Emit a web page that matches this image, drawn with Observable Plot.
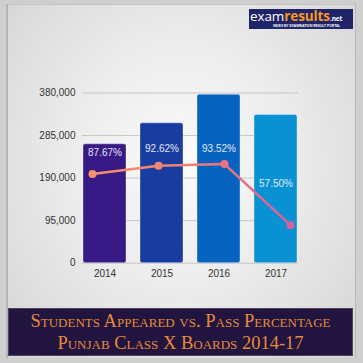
<!DOCTYPE html>
<html>
<head>
<meta charset="utf-8">
<script src="https://cdn.jsdelivr.net/npm/d3@7"></script>
<script src="https://cdn.jsdelivr.net/npm/@observablehq/plot@0.6"></script>
<style>
  html, body { margin: 0; padding: 0; }
  body { width: 363px; height: 363px; position: relative; overflow: hidden; background: #cfcfcf; }
  #panel { position: absolute; left: 6px; top: 4px; width: 347px; height: 353px;
    background: radial-gradient(ellipse at 50% 45%, #fbfbfb 0%, #ececec 45%, #d4d4d4 100%);
    border-left: 2px solid #b4b4b4; border-top: 1px solid #c4c4c4; border-right: 1px solid #b8b8b8; }
  .layer { position: absolute; left: 0; top: 0; }
  #logo { position: absolute; left: 249px; top: 9px; width: 104px; height: 20px; background: #1f2466; }
  #logo .brand { position: absolute; left: 1px; top: 0px; height: 14px; font-family: "Open Sans", sans-serif; font-size: 13.5px; line-height: 14px; color: #fff; white-space: nowrap; letter-spacing: -0.1px; }
  #logo .brand b { color: #f39a1e; font-weight: 700; }
  #logo .brand small { font-size: 6.5px; font-weight: 700; color: #fff; }
  #logo .tag { position: absolute; left: 24px; top: 15px; height: 4px; font-family: "Liberation Sans", sans-serif; font-size: 3.3px; line-height: 4px; color: #fff; white-space: nowrap; font-weight: 700; }
  #banner { position: absolute; left: 8px; top: 308px; width: 345px; height: 48px; background: #21143f;
    border: 1px solid #4a4560; box-sizing: border-box; color: #e58b3c; font-family: "Liberation Serif", "DejaVu Serif", serif;
    font-variant: small-caps; text-align: center; font-size: 18.5px; line-height: 22px; padding-top: 1px; }
</style>
</head>
<body>
<div id="panel"></div>
<div id="chart" class="layer"></div>
<div id="line" class="layer"></div>
<div id="logo"><div class="brand">exam<b>results</b><small>.net</small></div><div class="tag">INDEX BY EXAMINATION RESULT PORTAL</div></div>
<div id="banner"><div>Students Appeared vs. Pass Percentage</div><div>Punjab Class X Boards 2014-17</div></div>
<script>
const years = ["2014", "2015", "2016", "2017"];
const appeared = [265400, 312200, 376200, 331000];
const passLine = [198900, 217700, 221300, 84900];
const passPct = ["87.67%", "92.62%", "93.52%", "57.50%"];
const labelAt = [245800, 254700, 254700, 176300];
const barColors = ["#371a86", "#183c9f", "#0663bf", "#0892d4"];
const pointColors = ["#f98f6a", "#f5866f", "#ee7482", "#dc5e96"];
const yTicks = [0, 95000, 190000, 285000, 380000];

const bars = years.map((year, i) => ({year, value: appeared[i], color: barColors[i], label: passPct[i], labelY: labelAt[i]}));
const pts = years.map((year, i) => ({year, value: passLine[i], color: pointColors[i]}));

const W = 363, H = 363;
const common = {width: W, height: H, marginTop: 92.5, marginBottom: 100.3};

const chart = Plot.plot({
  ...common,
  marginLeft: 82, marginRight: 65,
  style: {background: "transparent", fontFamily: "'Liberation Sans', Arial, sans-serif", fontSize: "10px", color: "#333"},
  x: {type: "band", domain: years, paddingInner: 0.25, paddingOuter: 0, label: null, tickSize: 0, tickPadding: 7},
  y: {domain: [0, 380000], ticks: yTicks, tickFormat: d3.format(","), label: null, tickSize: 0, tickPadding: 7},
  color: {type: "identity"},
  marks: [
    Plot.gridY(yTicks, {stroke: "#c6c6c6", strokeOpacity: 1, strokeWidth: 1}),
    Plot.barY(bars, {x: "year", y: "value", fill: "color", rx: 2, stroke: "#ffffff", strokeOpacity: 0.35, strokeWidth: 1}),
    Plot.text(bars, {x: "year", y: "labelY", text: "label", fill: "#e2e5f6", fontSize: 10})
  ]
});
document.getElementById("chart").append(chart);

const gradient = () => {
  const ns = "http://www.w3.org/2000/svg";
  const defs = document.createElementNS(ns, "defs");
  const lg = document.createElementNS(ns, "linearGradient");
  lg.setAttribute("id", "lineGrad");
  lg.setAttribute("x1", "0"); lg.setAttribute("x2", "1"); lg.setAttribute("y1", "0"); lg.setAttribute("y2", "0");
  pointColors.forEach((c, i) => {
    const s = document.createElementNS(ns, "stop");
    s.setAttribute("offset", String(i / (pointColors.length - 1)));
    s.setAttribute("stop-color", c);
    lg.append(s);
  });
  defs.append(lg);
  return defs;
};

const line = Plot.plot({
  ...common,
  marginLeft: 91.7, marginRight: 73.3,
  style: {background: "transparent"},
  x: {type: "point", domain: years, padding: 0, axis: null},
  y: {domain: [0, 380000], axis: null},
  color: {type: "identity"},
  marks: [
    gradient,
    Plot.line(pts, {x: "year", y: "value", stroke: "url(#lineGrad)", strokeWidth: 2.5}),
    Plot.dot(pts, {x: "year", y: "value", fill: "color", r: 4})
  ]
});
document.getElementById("line").append(line);
</script>
</body>
</html>
